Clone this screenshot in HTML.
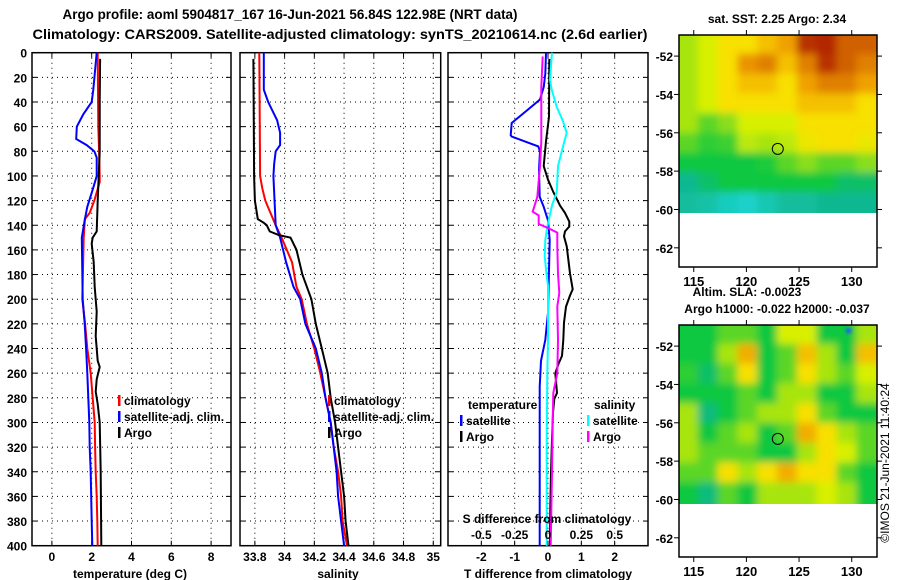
<!DOCTYPE html>
<html><head><meta charset="utf-8"><style>
html,body{margin:0;padding:0;background:#fff;}
svg{display:block;font-family:"Liberation Sans",sans-serif;font-weight:bold;}
</style></head><body>
<svg id="c" width="900" height="580" viewBox="0 0 900 580" xmlns="http://www.w3.org/2000/svg">
<defs>
<clipPath id="clipTop"><rect x="679" y="35" width="198" height="178"/></clipPath>
<clipPath id="clipBot"><rect x="679" y="325" width="198" height="179"/></clipPath>
<filter id="soft" x="-5%" y="-5%" width="110%" height="110%"><feGaussianBlur stdDeviation="4"/></filter>
<filter id="soft2" x="-50%" y="-50%" width="200%" height="200%"><feGaussianBlur stdDeviation="1.5"/></filter>
</defs>
<text x="290" y="19" text-anchor="middle" font-size="14" textLength="455" lengthAdjust="spacingAndGlyphs">Argo profile: aoml 5904817_167 16-Jun-2021 56.84S 122.98E (NRT data)</text>
<text x="340" y="39" text-anchor="middle" font-size="14" textLength="615" lengthAdjust="spacingAndGlyphs">Climatology: CARS2009. Satellite-adjusted climatology: synTS_20210614.nc (2.6d earlier)</text>
<g id="g"></g>
</svg>
<script>
// ---------- data ----------
const depthTicks = [0,20,40,60,80,100,120,140,160,180,200,220,240,260,280,300,320,340,360,380,400];
const tempTicks = [0,2,4,6,8];
const salTicks = [33.8,34,34.2,34.4,34.6,34.8,35];
const salTickLabels = ["33.8","34","34.2","34.4","34.6","34.8","35"];
const tdiffTicks = [-2,-1,0,1,2];
const sdiffTicks = [-0.5,-0.25,0,0.25,0.5];
const sdiffTickLabels = ["-0.5","-0.25","0","0.25","0.5"];

const argoTempDepth = [5,40,80,100,120,145,150,155,170,190,200,210,230,250,255,265,275,285,300,340,400];
const argoTempVal   = [2.42,2.4,2.4,2.35,2.3,2.25,2.05,2.0,2.1,2.15,2.2,2.25,2.2,2.3,2.4,2.25,2.2,2.3,2.4,2.45,2.48];
const climTempDepth = [0,60,80,100,105,120,130,135,150,200,220,240,260,280,300,320,340,360,380,400];
const climTempVal   = [2.3,2.33,2.37,2.4,2.4,2.13,1.9,1.66,1.6,1.53,1.67,1.78,1.95,2.05,2.15,2.17,2.2,2.25,2.28,2.3];
const satTempDepth  = [0,30,40,50,60,70,75,80,85,100,110,125,135,150,200,220,240,260,280,300,320,340,380,400];
const satTempVal    = [2.25,2.08,2.0,1.58,1.25,1.22,1.75,2.13,2.25,2.25,2.07,1.78,1.66,1.5,1.55,1.65,1.72,1.78,1.83,1.88,1.9,1.95,2.0,2.03];

const argoSalDepth = [5,100,120,135,138,140,145,148,150,160,180,200,220,240,260,280,300,320,340,360,380,400];
const argoSalVal   = [33.79,33.795,33.8,33.82,33.86,33.88,33.9,33.96,34.04,34.08,34.12,34.18,34.21,34.25,34.29,34.31,34.34,34.36,34.38,34.40,34.41,34.43];
const climSalDepth = [0,100,110,120,140,150,170,190,200,220,240,260,280,300,320,340,360,380,400];
const climSalVal   = [33.83,33.835,33.85,33.87,33.94,33.98,34.05,34.08,34.115,34.15,34.2,34.24,34.275,34.31,34.33,34.36,34.38,34.39,34.42];
const satSalDepth  = [0,30,40,55,65,75,80,90,100,140,150,170,190,200,220,240,260,280,300,320,340,360,380,400];
const satSalVal    = [33.86,33.86,33.89,33.95,33.97,33.97,33.94,33.93,33.925,33.94,33.97,34.01,34.06,34.105,34.14,34.21,34.25,34.275,34.31,34.33,34.35,34.36,34.38,34.40];

const tSatDiffDepth = [0,17,28,38,47,57,67,68,76,80,95,117,125,136,152,211,233,250,271,400];
const tSatDiffVal   = [-0.06,-0.08,-0.13,-0.24,-0.64,-1.09,-1.12,-1.09,-0.29,-0.24,-0.27,-0.25,-0.13,0,0.05,0,-0.08,-0.21,-0.25,-0.25];
const tArgoDiffDepth = [5,52,72,92,103,113,124,130,137,141,145,149,157,179,192,197,206,219,233,246,252,260,276,281,292,314,341,368,400];
const tArgoDiffVal   = [0.04,0.03,-0.06,-0.13,0,0.16,0.36,0.51,0.64,0.64,0.51,0.48,0.56,0.66,0.74,0.66,0.54,0.48,0.46,0.42,0.32,0.22,0.27,0.19,0.15,0.12,0.09,0.07,0.06];
const sSatDiffDepth = [0,22,30,44,55,65,73,92,113,124,141,152,165,179,189,233,260,314,400];
const sSatDiffVal   = [0.03,0.015,0.028,0.065,0.11,0.14,0.12,0.075,0.065,0.03,-0.005,-0.02,-0.025,-0.012,0,0,-0.005,-0.01,-0.01];
const sArgoDiffDepth = [3,28,72,92,117,129,132,139,142,146,157,179,195,206,233,260,276,300,341,400];
const sArgoDiffVal   = [-0.04,-0.05,-0.05,-0.06,-0.08,-0.115,-0.07,-0.07,-0.005,0.07,0.07,0.075,0.085,0.07,0.075,0.07,0.04,0.035,0.03,0.02];

const lonTicks = [115,120,125,130];
const latTicks = [-52,-54,-56,-58,-60,-62];
const sstGrid = [
 [2,2.5,3,3,3.5,4,5.5,5.6,5,5],
 [2,2.5,3,4.2,4.5,3.5,4.5,5.5,5,4.5],
 [2,2.5,3,3.5,3.5,3,4,4.5,4.5,4],
 [2,2.5,3,3,3,3,3.5,3.5,3.5,3],
 [2,1.5,1.8,2.5,2.5,2.5,3,3,3,3],
 [1.5,1.2,1.3,2.2,2,2.2,2.8,3,3,2.8],
 [1,1,1,1,1.1,1.5,1.8,1.5,1.5,1.8],
 [0.6,0.8,1,1,1,1,1,1,0.8,0.8],
 [0.5,0.4,0.2,0.1,0.3,0.5,0.5,0.6,0.6,0.6]];
const slaGrid = [
 [1,1,1.5,1.5,1,2.5,2.5,1,1,2],
 [1,1,2,3.8,1,1.5,3.5,2,1,3.5],
 [1.2,0.8,1.5,3,1,1.5,3,2,1.5,2.5],
 [1,1,1,1.5,1,2,2,1,1,2],
 [2,0.7,1,1.5,2,2,3,1.5,1,1],
 [2,1,1.5,2,1,1.5,3.8,3,2,1.5],
 [2,1.5,1.5,1.5,1,1,2,3,2.5,1.5],
 [1.5,1.5,3,2,3,3.8,3,3,1.5,1],
 [1,0.7,1.5,1,2,2,2,2.5,2,1]];
const argoLon = 122.98, argoLat = -56.84;

// ---------- helpers ----------
const NS="http://www.w3.org/2000/svg";
const G=document.getElementById('g');
function mk(tag,attrs,parent){const e=document.createElementNS(NS,tag);for(const k in attrs)e.setAttribute(k,attrs[k]);(parent||G).appendChild(e);return e;}
function txt(x,y,s,size,anchor,parent){const t=mk('text',{x:x,y:y,'font-size':size,'text-anchor':anchor||'middle'},parent);t.textContent=s;return t;}
const Y0=52.7,Y1=545.7,PT=52.7,PB=545.7;
const yD=d=>Y0+(d/400)*(Y1-Y0);
function lin(d0,d1,r0,r1){return v=>r0+(v-d0)/(d1-d0)*(r1-r0);}

const xT=lin(-1,9,32,231);
const xS=lin(33.7,35.05,240,440.7);
const xTd=lin(-3,3,448,648);
const xSd=lin(-0.75,0.75,448,648);

function panel(name,x0,x1,gridXs){
  const g=mk('g',{});
  
  
  gridXs.forEach(x=>{mk('line',{x1:x,x2:x,y1:PT,y2:PB,stroke:'#000','stroke-width':1,'stroke-dasharray':'1,4'},g);
    mk('line',{x1:x,x2:x,y1:PT,y2:PT+5,stroke:'#000'},g);mk('line',{x1:x,x2:x,y1:PB,y2:PB-5,stroke:'#000'},g);});
  depthTicks.forEach(d=>{const y=yD(d);if(d>0&&d<400)mk('line',{x1:x0,x2:x1,y1:y,y2:y,stroke:'#000','stroke-dasharray':'1,4'},g);
    mk('line',{x1:x0,x2:x0+5,y1:y,y2:y,stroke:'#000'},g);mk('line',{x1:x1,x2:x1-5,y1:y,y2:y,stroke:'#000'},g);});
  mk('rect',{x:x0,y:PT,width:x1-x0,height:PB-PT,fill:'none',stroke:'#000','stroke-width':1.5},g);
  return g;
}
function series(name,depths,vals,xf,color){
  const pts=depths.map((d,i)=>xf(vals[i]).toFixed(1)+','+yD(d).toFixed(1)).join(' ');
  const p=mk('polyline',{points:pts,fill:'none',stroke:color,'stroke-width':2});
  
  
}
function legend(name,x,y,color,label){
  const g=mk('g',{});
  
  
  mk('rect',{x:x,y:y-10,width:2.5,height:11,fill:color},g);
  txt(x+6,y,label,12,'start',g);
}

depthTicks.forEach(d=>{const t=txt(27,yD(d)+5,String(d),12,'end');
  
  });

panel('temperature-panel',32,231,tempTicks.map(xT));
tempTicks.forEach(v=>{const t=txt(xT(v),561,String(v),12);});
series('climatology-temp-line',climTempDepth,climTempVal,xT,'#f00');
series('satellite-temp-line',satTempDepth,satTempVal,xT,'#00f');
series('argo-temp-line',argoTempDepth,argoTempVal,xT,'#000');
legend('legend-climatology',118,405,'#f00','climatology');
legend('legend-satellite-adj',118,421,'#00f','satellite-adj. clim.');
legend('legend-argo',118,437,'#000','Argo');
{const t=txt(130,578,'temperature (deg C)',12);}

panel('salinity-panel',240,440.7,salTicks.map(xS));
salTicks.forEach((v,i)=>{const t=txt(xS(v),561,salTickLabels[i],12);});
series('climatology-sal-line',climSalDepth,climSalVal,xS,'#f00');
series('satellite-sal-line',satSalDepth,satSalVal,xS,'#00f');
series('argo-sal-line',argoSalDepth,argoSalVal,xS,'#000');
legend('legend-sal-climatology',328,405,'#f00','climatology');
legend('legend-sal-satellite-adj',328,421,'#00f','satellite-adj. clim.');
legend('legend-sal-argo',328,437,'#000','Argo');
{const t=txt(338,578,'salinity',12);}

panel('difference-panel',448,648,tdiffTicks.map(xTd));
tdiffTicks.forEach(v=>{const t=txt(xTd(v),561,String(v),12);});
series('satellite-tdiff-line',tSatDiffDepth,tSatDiffVal,xTd,'#00f');
series('argo-tdiff-line',tArgoDiffDepth,tArgoDiffVal,xTd,'#000');
series('satellite-sdiff-line',sSatDiffDepth,sSatDiffVal,xSd,'#0ff');
series('argo-sdiff-line',sArgoDiffDepth,sArgoDiffVal,xSd,'#f0f');
txt(468,409,'temperature',12,'start');
legend('legend-tdiff-satellite',460,425,'#00f','satellite');
legend('legend-tdiff-argo',460,441,'#000','Argo');
txt(594,409,'salinity',12,'start');
legend('legend-sdiff-satellite',587,425,'#0ff','satellite');
legend('legend-sdiff-argo',587,441,'#f0f','Argo');
{const t=txt(547,523,'S difference from climatology',12);}
sdiffTicks.forEach((v,i)=>{const t=txt(xSd(v),539,sdiffTickLabels[i],12);});
{const t=txt(548,578,'T difference from climatology',12);}

// ---------- maps ----------
const stops=[[0,[30,214,214]],[0.6,[16,184,144]],[1,[16,200,64]],[2,[168,228,16]],[2.5,[216,240,0]],[3,[248,224,0]],[4,[240,160,0]],[5,[208,96,0]],[6,[160,0,0]]];
function cmap(v){for(let i=1;i<stops.length;i++){if(v<=stops[i][0]){const a=stops[i-1],b=stops[i],t=(v-a[0])/(b[0]-a[0]);
  return 'rgb('+a[1].map((c,k)=>Math.round(c+(b[1][k]-c)*t)).join(',')+')';}}return 'rgb(160,0,0)';}
function drawMap(name,top,grid,clip){
  const g=mk('g',{});
  
  
  const xL=lin(113.6,132.4,679,877), yL=lin(-50.9,-63,top,top+232);
  const bottom=top+178;
  const img=mk('g',{'clip-path':'url(#'+clip+')'},g);
  const inner=mk('g',{filter:'url(#soft)'},img);
  const rows=grid.length,cols=grid[0].length;
  const cw=198/cols, ch=(bottom-top)/rows;
  for(let r=-1;r<=rows;r++)for(let c=-1;c<=cols;c++){
    const rr=Math.min(rows-1,Math.max(0,r)),cc=Math.min(cols-1,Math.max(0,c));
    mk('rect',{x:679+c*cw-1,y:top+r*ch-1,width:cw+2,height:ch+2,fill:cmap(grid[rr][cc])},inner);}
  if(name==='sla-map'){mk('circle',{cx:xL(129.7),cy:yL(-51.2),r:3,fill:'#2060f0',filter:'url(#soft2)'},img);}
  mk('circle',{cx:xL(argoLon),cy:yL(argoLat),r:5.5,fill:'none',stroke:'#000','stroke-width':1},g);
  mk('rect',{x:679,y:top,width:198,height:232,fill:'none',stroke:'#000','stroke-width':1.5},g);
  lonTicks.forEach(v=>{const x=xL(v);mk('line',{x1:x,x2:x,y1:top,y2:top-5,stroke:'#000'},g);mk('line',{x1:x,x2:x,y1:top+232,y2:top+237,stroke:'#000'},g);
    txt(x,top+251,String(v),13,'middle',g);});
  latTicks.forEach(v=>{const y=yL(v);mk('line',{x1:679,x2:674,y1:y,y2:y,stroke:'#000'},g);mk('line',{x1:877,x2:882,y1:y,y2:y,stroke:'#000'},g);
    txt(673,y+5,String(v),12,'end',g);});
}
drawMap('sst-map',35,sstGrid,'clipTop');
drawMap('sla-map',325,slaGrid,'clipBot');
{const t=txt(777,23,'sat. SST: 2.25 Argo: 2.34',12);}
{const t=txt(747,296,'Altim. SLA: -0.0023',12);}
{const t=txt(777,313,'Argo h1000: -0.022 h2000: -0.037',12);}
{const t=txt(0,0,'©IMOS 21-Jun-2021 11:40:24',12,'middle');t.setAttribute('font-weight','normal');
 t.setAttribute('transform','translate(889,463) rotate(-90)');
 }
</script>
</body></html>
